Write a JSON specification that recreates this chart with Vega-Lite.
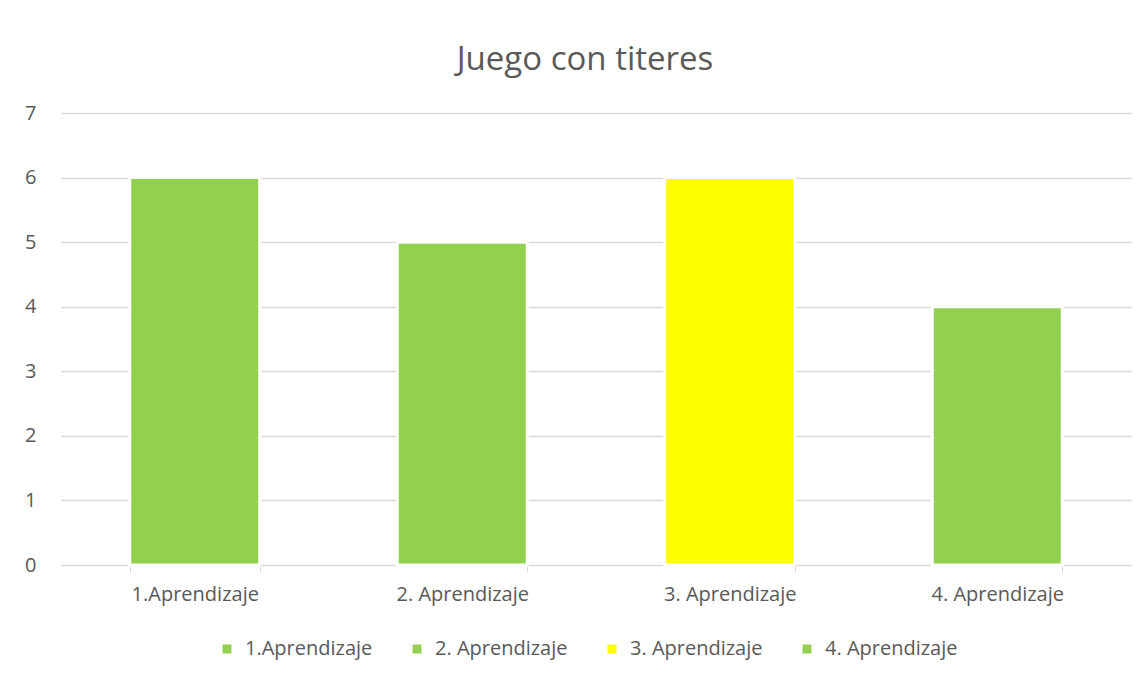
{
  "$schema": "https://vega.github.io/schema/vega-lite/v6.json",
  "width": 1070,
  "height": 452,
  "autosize": {"type": "none"},
  "padding": {"left": 61, "top": 113, "right": 17, "bottom": 114},
  "background": "white",
  "title": {
    "text": "Juego con titeres",
    "fontSize": 33,
    "font": "Open Sans",
    "fontWeight": "normal",
    "color": "#595959",
    "anchor": "middle",
    "frame": "group",
    "dx": -11,
    "offset": 26
  },
  "data": {
    "values": [
      {"categoria": "1.Aprendizaje", "valor": 6},
      {"categoria": "2. Aprendizaje", "valor": 5},
      {"categoria": "3. Aprendizaje", "valor": 6},
      {"categoria": "4. Aprendizaje", "valor": 4}
    ]
  },
  "mark": {"type": "bar", "stroke": "white", "strokeWidth": 3},
  "encoding": {
    "x": {
      "field": "categoria",
      "type": "nominal",
      "sort": null,
      "title": null,
      "scale": {"paddingInner": 0.514, "paddingOuter": 0.257},
      "axis": {
        "labelAngle": 0,
        "tickBand": "extent",
        "tickSize": 7,
        "tickColor": "#D9D9D9",
        "domainColor": "#D9D9D9",
        "labelPadding": 12,
        "labelFontSize": 20,
        "labelFont": "Open Sans",
        "labelColor": "#595959"
      }
    },
    "y": {
      "field": "valor",
      "type": "quantitative",
      "title": null,
      "scale": {"domain": [0, 7]},
      "axis": {
        "values": [0, 1, 2, 3, 4, 5, 6, 7],
        "ticks": false,
        "domain": false,
        "labelPadding": 25,
        "labelFontSize": 20,
        "labelFont": "Open Sans",
        "labelColor": "#595959",
        "gridColor": "#D9D9D9",
        "gridWidth": 1.3
      }
    },
    "color": {
      "field": "categoria",
      "type": "nominal",
      "sort": null,
      "scale": {
        "domain": ["1.Aprendizaje", "2. Aprendizaje", "3. Aprendizaje", "4. Aprendizaje"],
        "range": ["#92D050", "#92D050", "#FFFF00", "#92D050"]
      },
      "legend": {
        "title": null,
        "orient": "none",
        "direction": "horizontal",
        "columns": 4,
        "legendX": 156,
        "legendY": 526,
        "symbolType": "square",
        "symbolSize": 81,
        "symbolStrokeWidth": 0,
        "symbolOpacity": 1,
        "labelFontSize": 20,
        "labelFont": "Open Sans",
        "labelColor": "#595959",
        "labelOffset": 8,
        "columnPadding": 34
      }
    }
  },
  "config": {
    "view": {"stroke": null}
  }
}
